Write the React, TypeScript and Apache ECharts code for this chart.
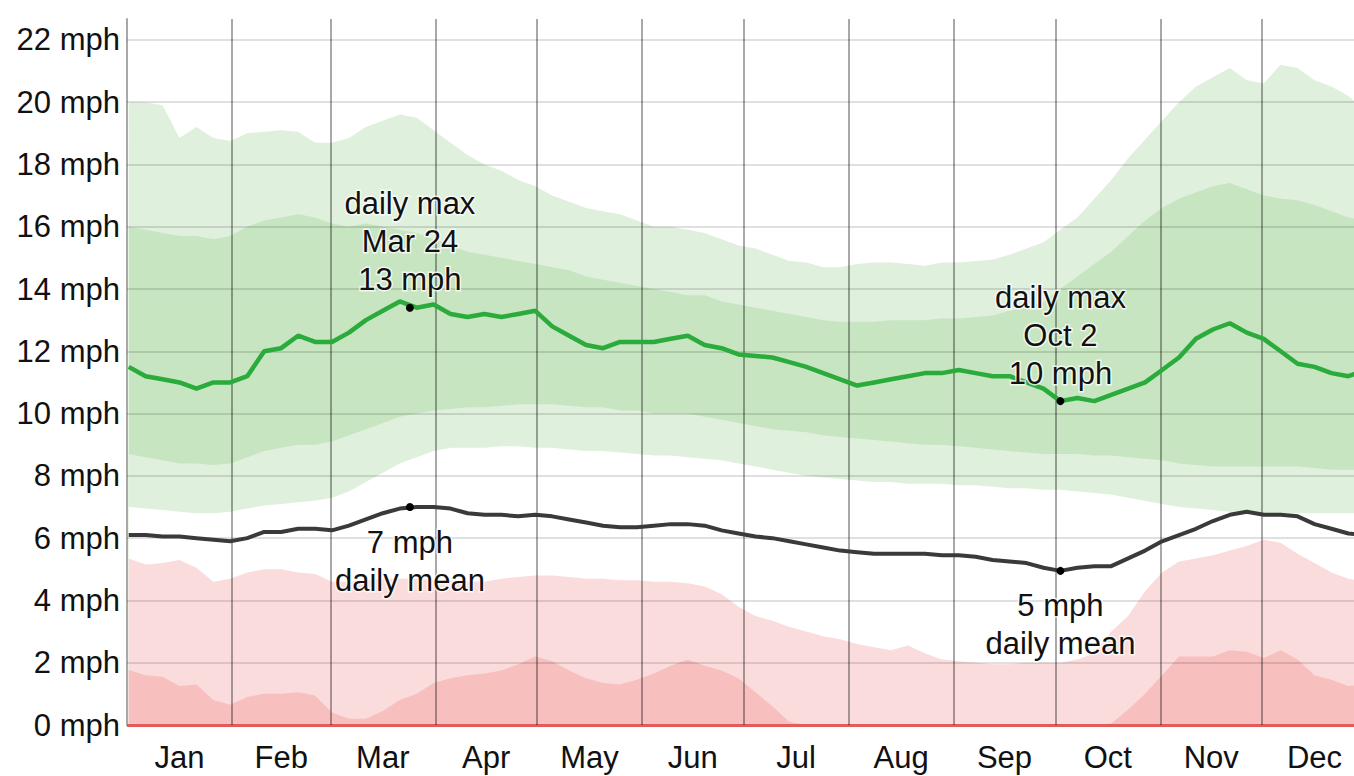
import React, { useEffect, useRef } from "react";
import * as echarts from "echarts";

const months = ["Jan", "Feb", "Mar", "Apr", "May", "Jun", "Jul", "Aug", "Sep", "Oct", "Nov", "Dec"];
const monthStarts = [0, 31, 60, 91, 121, 152, 182, 213, 244, 274, 305, 335];
const monthLengths = [31, 29, 31, 30, 31, 30, 31, 31, 30, 31, 30, 31];
const yTicks = [0, 2, 4, 6, 8, 10, 12, 14, 16, 18, 20, 22];

const sampleDays = [
  0, 5, 10, 15, 20, 25, 30, 35, 40, 45, 50, 55, 60, 65, 70, 75, 80, 85, 90, 95,
  100, 105, 110, 115, 120, 125, 130, 135, 140, 145, 150, 155, 160, 165, 170, 175, 180, 185, 190, 195,
  200, 205, 210, 215, 220, 225, 230, 235, 240, 245, 250, 255, 260, 265, 270, 275, 280, 285, 290, 295,
  300, 305, 310, 315, 320, 325, 330, 335, 340, 345, 350, 355, 360, 365,
];

const maxP90 = [
  20.0, 20.0, 19.9, 18.85, 19.2, 18.85, 18.75, 19.0, 19.05, 19.1,
  19.05, 18.7, 18.7, 18.85, 19.2, 19.4, 19.6, 19.5, 19.1, 18.7,
  18.3, 18.0, 17.8, 17.5, 17.3, 17.0, 16.8, 16.6, 16.5, 16.4,
  16.2, 16.0, 16.0, 15.9, 15.8, 15.6, 15.4, 15.3, 15.1, 14.9,
  14.85, 14.7, 14.7, 14.8, 14.85, 14.85, 14.8, 14.75, 14.85, 14.85,
  14.9, 14.95, 15.1, 15.3, 15.5, 15.9, 16.3, 16.9, 17.5, 18.2,
  18.8, 19.4, 20.0, 20.5, 20.8, 21.1, 20.7, 20.6, 21.2, 21.1,
  20.7, 20.5, 20.2, 19.7,
];
const maxP75 = [
  16.0, 15.9, 15.8, 15.7, 15.7, 15.6, 15.7, 16.0, 16.2, 16.3,
  16.4, 16.3, 16.1, 16.0, 16.1, 16.0, 15.9, 15.8, 15.6, 15.4,
  15.2, 15.1, 15.0, 14.9, 14.8, 14.7, 14.6, 14.4, 14.3, 14.2,
  14.1, 14.0, 13.9, 13.8, 13.8, 13.6, 13.5, 13.4, 13.3, 13.2,
  13.1, 13.0, 12.95, 12.95, 12.95, 13.0, 13.0, 13.0, 13.05, 13.05,
  13.1, 13.15, 13.3, 13.4, 13.6, 14.0, 14.4, 14.8, 15.2, 15.7,
  16.2, 16.6, 16.9, 17.1, 17.3, 17.4, 17.2, 17.0, 16.9, 16.85,
  16.7, 16.5, 16.3, 16.2,
];
const maxMedian = [
  11.5, 11.2, 11.1, 11.0, 10.8, 11.0, 11.0, 11.2, 12.0, 12.1,
  12.5, 12.3, 12.3, 12.6, 13.0, 13.3, 13.6, 13.4, 13.5, 13.2,
  13.1, 13.2, 13.1, 13.2, 13.3, 12.8, 12.5, 12.2, 12.1, 12.3,
  12.3, 12.3, 12.4, 12.5, 12.2, 12.1, 11.9, 11.85, 11.8, 11.65,
  11.5, 11.3, 11.1, 10.9, 11.0, 11.1, 11.2, 11.3, 11.3, 11.4,
  11.3, 11.2, 11.2, 11.0, 10.8, 10.4, 10.5, 10.4, 10.6, 10.8,
  11.0, 11.4, 11.8, 12.4, 12.7, 12.9, 12.6, 12.4, 12.0, 11.6,
  11.5, 11.3, 11.2, 11.4,
];
const maxP25 = [
  8.7, 8.6, 8.5, 8.4, 8.4, 8.35, 8.4, 8.6, 8.8, 8.9,
  9.0, 9.0, 9.1, 9.3, 9.5, 9.7, 9.9, 10.0, 10.1, 10.15,
  10.2, 10.2, 10.25, 10.3, 10.3, 10.3, 10.25, 10.2, 10.2, 10.1,
  10.1, 10.0, 10.0, 10.0, 9.9, 9.8, 9.7, 9.6, 9.5, 9.45,
  9.4, 9.3, 9.25, 9.2, 9.15, 9.1, 9.05, 9.0, 9.0, 8.95,
  8.9, 8.85, 8.8, 8.75, 8.7, 8.7, 8.7, 8.65, 8.65, 8.6,
  8.55, 8.5, 8.4, 8.35, 8.3, 8.3, 8.3, 8.3, 8.3, 8.3,
  8.25, 8.2, 8.2, 8.2,
];
const maxP10 = [
  7.0, 6.95, 6.9, 6.85, 6.8, 6.8, 6.85, 6.95, 7.05, 7.1,
  7.15, 7.2, 7.3, 7.5, 7.8, 8.1, 8.4, 8.6, 8.8, 8.9,
  8.9, 8.9, 8.95, 8.95, 8.9, 8.9, 8.85, 8.8, 8.8, 8.75,
  8.7, 8.65, 8.65, 8.6, 8.55, 8.5, 8.4, 8.3, 8.2, 8.1,
  8.0, 7.95, 7.9, 7.85, 7.8, 7.8, 7.75, 7.75, 7.75, 7.7,
  7.7, 7.65, 7.6, 7.6, 7.55, 7.55, 7.5, 7.45, 7.4, 7.3,
  7.2, 7.1, 7.0, 6.95, 6.9, 6.85, 6.85, 6.8, 6.8, 6.8,
  6.8, 6.8, 6.8, 6.8,
];
const meanDaily = [
  6.1, 6.1, 6.05, 6.05, 6.0, 5.95, 5.9, 6.0, 6.2, 6.2,
  6.3, 6.3, 6.25, 6.4, 6.6, 6.8, 6.95, 7.0, 7.0, 6.95,
  6.8, 6.75, 6.75, 6.7, 6.75, 6.7, 6.6, 6.5, 6.4, 6.35,
  6.35, 6.4, 6.45, 6.45, 6.4, 6.25, 6.15, 6.05, 6.0, 5.9,
  5.8, 5.7, 5.6, 5.55, 5.5, 5.5, 5.5, 5.5, 5.45, 5.45,
  5.4, 5.3, 5.25, 5.2, 5.05, 4.95, 5.05, 5.1, 5.1, 5.35,
  5.6, 5.9, 6.1, 6.3, 6.55, 6.75, 6.85, 6.75, 6.75, 6.7,
  6.45, 6.3, 6.15, 6.1,
];
const minP90 = [
  5.35, 5.15, 5.2, 5.3, 5.05, 4.6, 4.7, 4.9, 5.0, 5.0,
  4.9, 4.85, 4.6, 4.6, 4.65, 4.7, 4.7, 4.7, 4.65, 4.65,
  4.6, 4.6, 4.7, 4.75, 4.8, 4.8, 4.75, 4.7, 4.7, 4.65,
  4.65, 4.6, 4.6, 4.55, 4.45, 4.2, 3.8, 3.5, 3.35, 3.15,
  3.0, 2.85, 2.75, 2.6, 2.5, 2.4, 2.55, 2.3, 2.1, 2.05,
  2.0, 1.95, 1.95, 2.0, 2.0, 2.0, 2.1, 2.3, 3.0, 3.5,
  4.3, 4.9, 5.25, 5.35, 5.45, 5.6, 5.75, 5.95, 5.85, 5.5,
  5.2, 4.9, 4.7, 4.6,
];
const minP75 = [
  1.77, 1.6, 1.55, 1.25, 1.3, 0.8, 0.65, 0.9, 1.0, 1.0,
  1.05, 0.95, 0.4, 0.2, 0.2, 0.45, 0.8, 1.0, 1.35, 1.5,
  1.6, 1.65, 1.75, 1.95, 2.2, 2.05, 1.75, 1.5, 1.35, 1.3,
  1.45, 1.65, 1.9, 2.1, 1.9, 1.75, 1.5, 1.05, 0.6, 0.1,
  0, 0, 0, 0, 0, 0, 0, 0, 0, 0,
  0, 0, 0, 0, 0, 0, 0, 0, 0.05, 0.5,
  1.0, 1.6, 2.2, 2.2, 2.2, 2.4, 2.35, 2.15, 2.4, 2.1,
  1.6, 1.45, 1.25, 1.3,
];
const minMedian = 0;

const markerDays = [83, 275];
const markerDates = ["Mar 24", "Oct 2"];
const markerMax = [13.4, 10.4];
const markerMean = [7.0, 4.95];

const X_MAX = 362.15;
const Y_MAX = 22.67;
const FONT = "'Liberation Sans', Arial, sans-serif";
const FS = 31;

const pts = (vals: number[]) => sampleDays.map((d, i) => [d + 0.5, vals[i]]);

export default function App() {
  const ref = useRef<HTMLDivElement>(null);
  useEffect(() => {
    if (!ref.current) return;
    const chart = echarts.init(ref.current, undefined, { renderer: "svg" });
    const band = (name: string, vals: number[], color: string, extra: any = {}) => ({
      type: "line",
      name,
      data: pts(vals),
      symbol: "none",
      showSymbol: false,
      silent: true,
      z: 2,
      lineStyle: { width: 0, opacity: 0 },
      areaStyle: { color, opacity: 1, origin: 0 },
      ...extra,
    });
    const lightGreen = "#dff0dc";
    const midGreen = "#c6e5c0";
    const labelCommon = {
      show: true,
      fontFamily: FONT,
      fontSize: FS,
      color: "#111",
      opacity: 1,
      lineHeight: 38,
      align: "center",
      textBorderColor: "rgba(255,255,255,0.75)",
      textBorderWidth: 3,
    };
    const ml = (color: string, width: number, data: any[]) => ({
      silent: true,
      symbol: ["none", "none"],
      label: { show: false },
      z: 3,
      animation: false,
      lineStyle: { color, width, type: "solid" },
      data,
    });
    chart.setOption({
      animation: false,
      grid: { left: 127, right: 0, top: 19, bottom: 51 },
      xAxis: {
        type: "value",
        min: 0,
        max: X_MAX,
        axisLine: { show: true, onZero: false, lineStyle: { color: "#a8a8a8", width: 2 } },
        axisTick: { show: false },
        splitLine: { show: false },
        axisLabel: {
          customValues: monthStarts.map((s, i) => s + monthLengths[i] / 2),
          formatter: (v: number) => {
            const i = monthStarts.findIndex((s, k) => Math.abs(s + monthLengths[k] / 2 - v) < 0.01);
            return i >= 0 ? months[i] : "";
          },
          fontFamily: FONT,
          fontSize: FS,
          color: "#111",
          margin: 17,
        },
      },
      yAxis: {
        type: "value",
        min: 0,
        max: Y_MAX,
        axisLine: { show: true, lineStyle: { color: "#a8a8a8", width: 2 } },
        axisTick: { show: false },
        splitLine: { show: false },
        axisLabel: {
          customValues: yTicks,
          formatter: (v: number) => `${v} mph`,
          fontFamily: FONT,
          fontSize: FS,
          color: "#111",
          margin: 7,
        },
      },
      series: [
        band("daily max p90", maxP90, lightGreen),
        band("daily max p75", maxP75, midGreen),
        band("daily max p25", maxP25, lightGreen),
        band("daily max p10", maxP10, "#ffffff"),
        band("daily min p90", minP90, "#fbdcdc"),
        band("daily min p75", minP75, "#f8bfbf", {
          markLine: ml("#e25c5c", 3, [{ yAxis: minMedian }]),
        }),
        {
          type: "line",
          name: "grid",
          data: [],
          silent: true,
          markLine: ml("rgba(0,0,0,0.12)", 2, yTicks.slice(1).map((v) => ({ yAxis: v }))),
        },
        {
          type: "line",
          name: "months",
          data: [],
          silent: true,
          markLine: ml("rgba(0,0,0,0.34)", 2, monthStarts.slice(1).map((v) => ({ xAxis: v }))),
        },
        {
          type: "line",
          name: "daily max median",
          data: pts(maxMedian),
          symbol: "none",
          showSymbol: false,
          z: 4,
          lineStyle: { color: "#2aab3c", width: 4.5 },
        },
        {
          type: "line",
          name: "daily mean",
          data: pts(meanDaily),
          symbol: "none",
          showSymbol: false,
          z: 4,
          lineStyle: { color: "#3a3a3a", width: 4 },
        },
        {
          type: "scatter",
          name: "max markers",
          z: 6,
          symbolSize: 8,
          itemStyle: { color: "#000", opacity: 1 },
          data: markerDays.map((d, i) => [d + 0.5, markerMax[i]]),
          label: {
            ...labelCommon,
            position: "top",
            distance: 5,
            formatter: (p: any) => `daily max\n${markerDates[p.dataIndex]}\n${Math.round(p.value[1])} mph`,
          },
        },
        {
          type: "scatter",
          name: "mean markers",
          z: 6,
          symbolSize: 8,
          itemStyle: { color: "#000", opacity: 1 },
          data: markerDays.map((d, i) => [d + 0.5, markerMean[i]]),
          label: {
            ...labelCommon,
            position: "bottom",
            distance: 12,
            formatter: (p: any) => `${Math.round(p.value[1])} mph\ndaily mean`,
          },
        },
      ],
    });
    return () => chart.dispose();
  }, []);
  return (
    <div
      ref={ref}
      style={{ position: "fixed", left: 0, top: 0, width: 1354, height: 776, background: "#fff" }}
    />
  );
}
